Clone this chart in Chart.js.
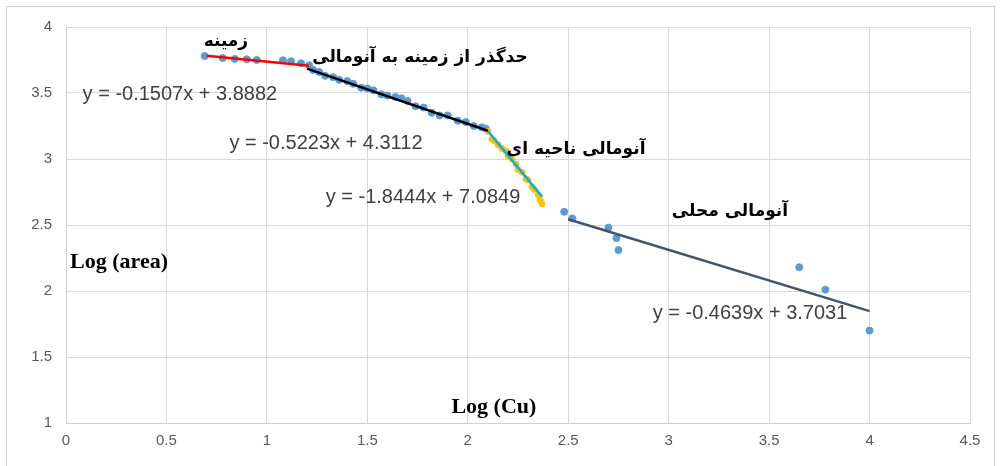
<!DOCTYPE html>
<html>
<head>
<meta charset="utf-8">
<script src="https://cdn.jsdelivr.net/npm/chart.js@4"></script>
<style>
  body { margin: 0; background: #fff; }
  #wrap { width: 1001px; height: 466px; }
</style>
</head>
<body>
<div id="wrap"><canvas id="myChart" width="1001" height="466"></canvas></div>
<script>
// background (zamine)
const bgX = [0.69, 0.78, 0.84, 0.9, 0.95, 1.08, 1.12, 1.17, 1.21];
const bgY = [3.78, 3.765, 3.758, 3.755, 3.75, 3.748, 3.74, 3.725, 3.71];
// transition from background to anomaly
const transX = [1.23, 1.26, 1.29, 1.33, 1.36, 1.4, 1.43, 1.47, 1.5, 1.53, 1.57, 1.6, 1.64, 1.67, 1.7, 1.74, 1.78, 1.82, 1.86, 1.9, 1.95, 1.99, 2.03, 2.07, 2.09];
const transY = [3.675, 3.66, 3.63, 3.62, 3.6, 3.59, 3.57, 3.54, 3.535, 3.52, 3.49, 3.48, 3.47, 3.46, 3.44, 3.4, 3.39, 3.35, 3.33, 3.33, 3.29, 3.28, 3.25, 3.24, 3.23];
// regional anomaly
const regX = [2.1, 2.12, 2.13, 2.15, 2.17, 2.19, 2.2, 2.22, 2.24, 2.25, 2.27, 2.29, 2.3, 2.32, 2.33, 2.35, 2.36, 2.37];
const regY = [3.21, 3.15, 3.14, 3.11, 3.08, 3.06, 3.02, 3.0, 2.96, 2.92, 2.9, 2.85, 2.84, 2.79, 2.77, 2.73, 2.69, 2.66];
// local anomaly
const localX = [2.48, 2.52, 2.7, 2.74, 2.75, 3.65, 3.78, 4.0];
const localY = [2.6, 2.55, 2.48, 2.4, 2.31, 2.18, 2.01, 1.7];

// trend lines shown in the chart
const trendSlope = [-0.1507, -0.5223, -1.8444, -0.4639];
const trendIntercept = [3.8882, 4.3112, 7.0849, 3.7031];
const trendFrom = [0.7, 1.2, 2.1, 2.5];
const trendTo = [1.21, 2.1, 2.37, 4.0];
const trendColor = ["#ff0000", "#000000", "#00b0f0", "#44546a"];

const xTicks = [0, 0.5, 1, 1.5, 2, 2.5, 3, 3.5, 4, 4.5];
const yTicks = [1, 1.5, 2, 2.5, 3, 3.5, 4];

function pts(xs, ys) {
  return xs.map((x, i) => ({ x: x, y: ys[i] }));
}

const bluePts = pts(bgX, bgY).concat(pts(transX, transY), pts(localX, localY));

const datasets = [];
for (let i = 0; i < trendSlope.length; i++) {
  datasets.push({
    type: "line",
    data: [
      { x: trendFrom[i], y: trendSlope[i] * trendFrom[i] + trendIntercept[i] },
      { x: trendTo[i], y: trendSlope[i] * trendTo[i] + trendIntercept[i] },
    ],
    borderColor: trendColor[i],
    borderWidth: 2.5,
    pointRadius: 0,
    fill: false,
    order: 0,
  });
}
datasets.push({
  type: "scatter",
  data: pts(regX, regY),
  backgroundColor: "#ffc000",
  borderColor: "#ffc000",
  pointRadius: 3,
  order: 1,
});
datasets.push({
  type: "scatter",
  data: bluePts,
  backgroundColor: "#5b9bd5",
  borderColor: "#5b9bd5",
  pointRadius: 3.5,
  order: 2,
});

const eqFont = "20px 'Liberation Sans', Arial, sans-serif";
const faFont = "bold 17px 'DejaVu Sans', sans-serif";
const axFont = "bold 22px 'Liberation Serif', 'Times New Roman', serif";
const notes = [
  { t: "زمینه", x: 0.796, y: 3.886, f: faFont, c: "#000" },
  { t: "حدگذر از زمینه به آنومالی", x: 1.762, y: 3.765, f: faFont, c: "#000" },
  { t: "y = -0.1507x + 3.8882", x: 0.567, y: 3.485, f: eqFont, c: "#404040" },
  { t: "y = -0.5223x + 4.3112", x: 1.294, y: 3.114, f: eqFont, c: "#404040" },
  { t: "آنومالی ناحیه ای", x: 2.539, y: 3.068, f: faFont, c: "#000" },
  { t: "y = -1.8444x + 7.0849", x: 1.777, y: 2.712, f: eqFont, c: "#404040" },
  { t: "آنومالی محلی", x: 3.305, y: 2.598, f: faFont, c: "#000" },
  { t: "y = -0.4639x + 3.7031", x: 3.405, y: 1.833, f: eqFont, c: "#404040" },
  { t: "Log (area)", x: 0.264, y: 2.22, f: axFont, c: "#000" },
  { t: "Log (Cu)", x: 2.13, y: 1.121, f: axFont, c: "#000" },
];

const frame = {
  id: "frame",
  beforeDraw(chart) {
    const c = chart.ctx;
    c.save();
    c.fillStyle = "#fff";
    c.fillRect(0, 0, chart.width, chart.height);
    c.strokeStyle = "#d0d0d0";
    c.lineWidth = 1;
    c.strokeRect(6.5, 6.5, 988, 480);
    c.restore();
  },
  afterDraw(chart) {
    const c = chart.ctx;
    const xs = chart.scales.x, ys = chart.scales.y;
    c.save();
    c.textAlign = "center";
    c.textBaseline = "middle";
    notes.forEach(n => {
      c.font = n.f;
      c.fillStyle = n.c;
      c.fillText(n.t, xs.getPixelForValue(n.x), ys.getPixelForValue(n.y));
    });
    c.restore();
  },
};

const chart = new Chart(document.getElementById("myChart"), {
  data: { datasets: datasets },
  plugins: [frame],
  options: {
    responsive: false,
    animation: false,
    devicePixelRatio: 1,
    layout: { padding: { left: 0, top: 27, right: 31, bottom: 0 } },
    plugins: { legend: { display: false }, tooltip: { enabled: false } },
    scales: {
      x: {
        type: "linear",
        min: 0,
        max: 4.5,
        afterBuildTicks: s => { s.ticks = xTicks.map(v => ({ value: v })); },
        afterFit: s => { s.height = 43; },
        grid: { color: "#d9d9d9", drawTicks: false },
        border: { color: "#d0d0d0" },
        ticks: {
          padding: 9,
          color: "#595959",
          font: { family: "'Liberation Sans', Arial, sans-serif", size: 15 },
          callback: v => String(v),
        },
      },
      y: {
        type: "linear",
        min: 1,
        max: 4,
        afterBuildTicks: s => { s.ticks = yTicks.map(v => ({ value: v })); },
        afterFit: s => { s.width = 66; },
        grid: { color: "#d9d9d9", drawTicks: false },
        border: { color: "#d0d0d0" },
        ticks: {
          padding: 14,
          color: "#595959",
          font: { family: "'Liberation Sans', Arial, sans-serif", size: 15 },
          callback: v => String(v),
        },
      },
    },
  },
});
</script>
</body>
</html>
